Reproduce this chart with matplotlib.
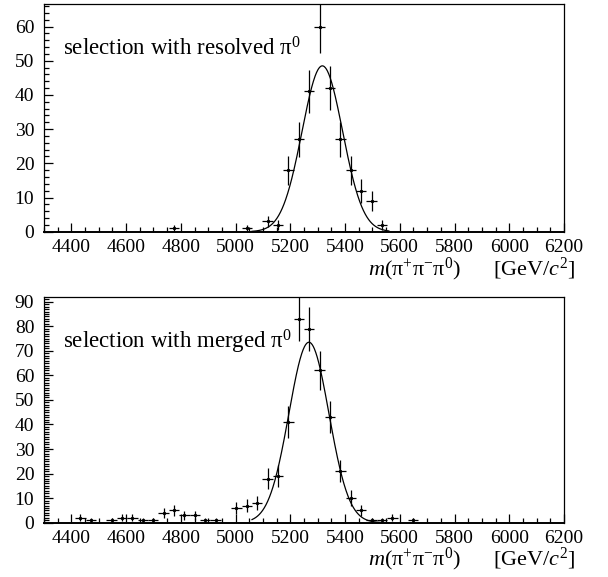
import numpy as np
import matplotlib
matplotlib.use("Agg")
import matplotlib.pyplot as plt
from matplotlib.ticker import MultipleLocator

plt.rcParams['font.family'] = ['Liberation Serif', 'DejaVu Serif']
plt.rcParams['mathtext.fontset'] = 'custom'
plt.rcParams['mathtext.rm'] = 'Liberation Serif'
plt.rcParams['mathtext.it'] = 'Liberation Serif:italic'
plt.rcParams['mathtext.bf'] = 'Liberation Serif:bold'

# ---- data ----
bin_half_width = 19

top_x = [4775, 5041, 5117, 5155, 5193, 5231, 5269, 5307, 5345, 5383, 5421, 5459, 5497, 5535]
top_y = [1, 1, 3, 2, 18, 27, 41, 60, 42, 27, 18, 12, 9, 2]
top_err = [1.0, 1.0, 1.7, 1.4, 4.2, 5.2, 6.4, 7.7, 6.5, 5.2, 4.2, 3.5, 3.0, 1.4]

bot_x = [4433, 4471, 4547, 4585, 4623, 4661, 4699, 4737, 4775, 4813, 4851, 4889, 4927,
         5003, 5041, 5079, 5117, 5155, 5193, 5231, 5269, 5307, 5345, 5383, 5421, 5459,
         5497, 5535, 5573, 5649]
bot_y = [2, 1, 1, 2, 2, 1, 1, 4, 5, 3, 3, 1, 1,
         6, 7, 8, 18, 19, 41, 83, 79, 62, 43, 21, 10, 5,
         1, 1, 2, 1]
bot_err = [1.4, 1.0, 1.0, 1.4, 1.4, 1.0, 1.0, 2.0, 2.2, 1.7, 1.7, 1.0, 1.0,
           2.4, 2.6, 2.8, 4.2, 4.4, 6.4, 9.1, 8.9, 7.9, 6.6, 4.6, 3.2, 2.2,
           1.0, 1.0, 1.4, 1.0]

# Gaussian fit parameters (amplitude, mean, sigma) and fit range
top_fit = (48.5, 5317, 74)
bot_fit = (73.5, 5268, 73)
fit_range = (5060, 5560)

top_label = r'selection with resolved $\mathrm{\pi}^{0}$'
bot_label = r'selection with merged $\mathrm{\pi}^{0}$'
xlabel_main = r'$m(\mathrm{\pi}^{+}\mathrm{\pi}^{-}\mathrm{\pi}^{0})$'
xlabel_unit = r'[GeV/$c^{2}$]'

W, H = 608, 577
fig = plt.figure(figsize=(W / 100, H / 100), dpi=100)

def px_axes(left, top, right, bottom):
    return fig.add_axes([left / W, 1 - bottom / H, (right - left) / W, (bottom - top) / H])

ax1 = px_axes(44, 4.3, 564, 231.7)
ax2 = px_axes(44, 297.3, 564, 522.7)

def draw(ax, x, y, err, fit, ymax, yminor, label, label_y):
    ax.errorbar(x, y, yerr=err, xerr=bin_half_width, fmt='none', ecolor='black',
                elinewidth=0.9, capsize=0)
    ax.plot(x, y, linestyle='none', marker='s', markersize=1.2, color='black')
    a, mu, s = fit
    xx = np.linspace(fit_range[0], fit_range[1], 400)
    ax.plot(xx, a * np.exp(-0.5 * ((xx - mu) / s) ** 2), color='black', linewidth=0.9)
    ax.set_xlim(4300, 6200)
    ax.set_ylim(0, ymax)
    ax.xaxis.set_major_locator(MultipleLocator(200))
    ax.xaxis.set_minor_locator(MultipleLocator(50))
    ax.yaxis.set_major_locator(MultipleLocator(10))
    ax.yaxis.set_minor_locator(MultipleLocator(yminor))
    ax.tick_params(which='both', direction='in', top=False, right=False,
                   labelsize=14, width=0.9, colors='black')
    ax.tick_params(which='major', length=6.5)
    ax.tick_params(which='minor', length=3.5)
    ax.tick_params(axis='x', which='major', pad=5.5)
    ax.tick_params(axis='y', which='major', pad=7)
    for sp in ax.spines.values():
        sp.set_linewidth(0.9)
    ax.spines['bottom'].set_linewidth(1.4)
    ax.text((63 - 44) / 520, label_y, label, fontsize=16.5, transform=ax.transAxes,
            va='baseline', ha='left')
    ax.text((368 - 44) / 520, -0.19, xlabel_main, fontsize=16, transform=ax.transAxes,
            va='baseline', ha='left')
    ax.text((575 - 44) / 520, -0.19, xlabel_unit, fontsize=16, transform=ax.transAxes,
            va='baseline', ha='right')

draw(ax1, top_x, top_y, top_err, top_fit, 66.5, 2, top_label, (231.7 - 55) / 227.4)
draw(ax2, bot_x, bot_y, bot_err, bot_fit, 91.8, 1, bot_label, (522.7 - 348.3) / 225.4)

fig.savefig('out.png', dpi=100)
